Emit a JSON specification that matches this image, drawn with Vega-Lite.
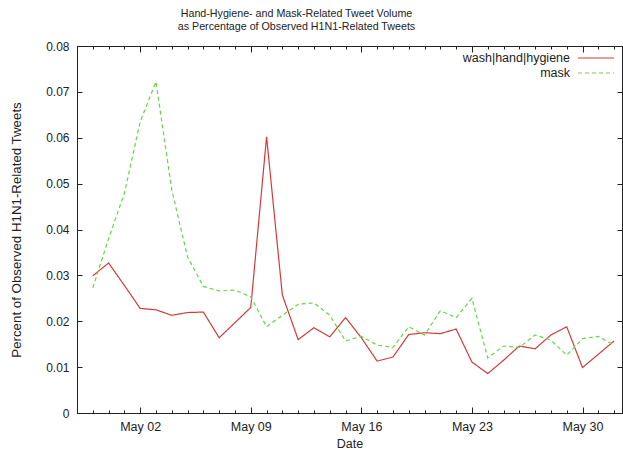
{
 "$schema": "https://vega.github.io/schema/vega-lite/v6.json",
 "width": 545, "height": 367,
 "autosize": "none",
 "padding": {"left": 77, "top": 46, "right": 1, "bottom": 37},
 "config": {
   "view": {"stroke": "#222", "strokeWidth": 1}
 },
 "title": {"text": ["Hand-Hygiene- and Mask-Related Tweet Volume", "as Percentage of Observed H1N1-Related Tweets"], "fontSize": 10.7, "fontWeight": "normal", "font": "Liberation Sans", "color": "#222", "anchor": "middle", "dx": -53, "offset": 7, "lineHeight": 13},
 "data": {"values": [
  {"date": "2009-04-29", "series": "wash|hand|hygiene", "value": 0.0299},
  {"date": "2009-04-30", "series": "wash|hand|hygiene", "value": 0.0327},
  {"date": "2009-05-01", "series": "wash|hand|hygiene", "value": 0.0278},
  {"date": "2009-05-02", "series": "wash|hand|hygiene", "value": 0.0228},
  {"date": "2009-05-03", "series": "wash|hand|hygiene", "value": 0.0225},
  {"date": "2009-05-04", "series": "wash|hand|hygiene", "value": 0.0213},
  {"date": "2009-05-05", "series": "wash|hand|hygiene", "value": 0.0219},
  {"date": "2009-05-06", "series": "wash|hand|hygiene", "value": 0.0220},
  {"date": "2009-05-07", "series": "wash|hand|hygiene", "value": 0.0164},
  {"date": "2009-05-08", "series": "wash|hand|hygiene", "value": 0.0197},
  {"date": "2009-05-09", "series": "wash|hand|hygiene", "value": 0.0230},
  {"date": "2009-05-10", "series": "wash|hand|hygiene", "value": 0.0602},
  {"date": "2009-05-11", "series": "wash|hand|hygiene", "value": 0.0257},
  {"date": "2009-05-12", "series": "wash|hand|hygiene", "value": 0.0160},
  {"date": "2009-05-13", "series": "wash|hand|hygiene", "value": 0.0186},
  {"date": "2009-05-14", "series": "wash|hand|hygiene", "value": 0.0166},
  {"date": "2009-05-15", "series": "wash|hand|hygiene", "value": 0.0208},
  {"date": "2009-05-16", "series": "wash|hand|hygiene", "value": 0.0164},
  {"date": "2009-05-17", "series": "wash|hand|hygiene", "value": 0.0113},
  {"date": "2009-05-18", "series": "wash|hand|hygiene", "value": 0.0122},
  {"date": "2009-05-19", "series": "wash|hand|hygiene", "value": 0.0171},
  {"date": "2009-05-20", "series": "wash|hand|hygiene", "value": 0.0175},
  {"date": "2009-05-21", "series": "wash|hand|hygiene", "value": 0.0173},
  {"date": "2009-05-22", "series": "wash|hand|hygiene", "value": 0.0183},
  {"date": "2009-05-23", "series": "wash|hand|hygiene", "value": 0.0111},
  {"date": "2009-05-24", "series": "wash|hand|hygiene", "value": 0.0086},
  {"date": "2009-05-25", "series": "wash|hand|hygiene", "value": 0.0115},
  {"date": "2009-05-26", "series": "wash|hand|hygiene", "value": 0.0146},
  {"date": "2009-05-27", "series": "wash|hand|hygiene", "value": 0.0140},
  {"date": "2009-05-28", "series": "wash|hand|hygiene", "value": 0.0170},
  {"date": "2009-05-29", "series": "wash|hand|hygiene", "value": 0.0188},
  {"date": "2009-05-30", "series": "wash|hand|hygiene", "value": 0.0099},
  {"date": "2009-05-31", "series": "wash|hand|hygiene", "value": 0.0128},
  {"date": "2009-06-01", "series": "wash|hand|hygiene", "value": 0.0157},
  {"date": "2009-04-29", "series": "mask", "value": 0.0273},
  {"date": "2009-04-30", "series": "mask", "value": 0.0380},
  {"date": "2009-05-01", "series": "mask", "value": 0.0479},
  {"date": "2009-05-02", "series": "mask", "value": 0.0635},
  {"date": "2009-05-03", "series": "mask", "value": 0.0722},
  {"date": "2009-05-04", "series": "mask", "value": 0.0486},
  {"date": "2009-05-05", "series": "mask", "value": 0.0340},
  {"date": "2009-05-06", "series": "mask", "value": 0.0276},
  {"date": "2009-05-07", "series": "mask", "value": 0.0266},
  {"date": "2009-05-08", "series": "mask", "value": 0.0268},
  {"date": "2009-05-09", "series": "mask", "value": 0.0253},
  {"date": "2009-05-10", "series": "mask", "value": 0.0188},
  {"date": "2009-05-11", "series": "mask", "value": 0.0213},
  {"date": "2009-05-12", "series": "mask", "value": 0.0237},
  {"date": "2009-05-13", "series": "mask", "value": 0.0240},
  {"date": "2009-05-14", "series": "mask", "value": 0.0213},
  {"date": "2009-05-15", "series": "mask", "value": 0.0157},
  {"date": "2009-05-16", "series": "mask", "value": 0.0167},
  {"date": "2009-05-17", "series": "mask", "value": 0.0148},
  {"date": "2009-05-18", "series": "mask", "value": 0.0143},
  {"date": "2009-05-19", "series": "mask", "value": 0.0188},
  {"date": "2009-05-20", "series": "mask", "value": 0.0170},
  {"date": "2009-05-21", "series": "mask", "value": 0.0223},
  {"date": "2009-05-22", "series": "mask", "value": 0.0208},
  {"date": "2009-05-23", "series": "mask", "value": 0.0250},
  {"date": "2009-05-24", "series": "mask", "value": 0.0120},
  {"date": "2009-05-25", "series": "mask", "value": 0.0146},
  {"date": "2009-05-26", "series": "mask", "value": 0.0143},
  {"date": "2009-05-27", "series": "mask", "value": 0.0170},
  {"date": "2009-05-28", "series": "mask", "value": 0.0159},
  {"date": "2009-05-29", "series": "mask", "value": 0.0126},
  {"date": "2009-05-30", "series": "mask", "value": 0.0162},
  {"date": "2009-05-31", "series": "mask", "value": 0.0167},
  {"date": "2009-06-01", "series": "mask", "value": 0.0148}
 ]},
 "mark": {"type": "line", "strokeWidth": 1.2},
 "encoding": {
  "x": {"field": "date", "type": "temporal",
        "scale": {"type": "utc", "domain": [{"year": 2009, "month": 4, "date": 28, "utc": true}, {"year": 2009, "month": 6, "date": 1, "hours": 12, "utc": true}]},
        "axis": {"orient": "bottom", "domainColor": "#222", "domainWidth": 1, "ticks": false, "tickSize": 0,
                 "grid": true, "gridColor": "#222", "gridOpacity": 1, "gridWidth": 1,
                 "gridDash": {"condition": {"test": "utcday(datum.value) == 6", "value": [6, 355, 6, 1000]}, "value": [3, 361, 3, 1000]},
                 "tickCount": {"interval": "day", "step": 1},
                 "labelExpr": "utcday(datum.value) == 6 ? utcFormat(datum.value, '%b %d') : ''",
                 "labelFont": "Liberation Sans", "labelFontSize": 12.5, "labelColor": "#222", "labelOverlap": false, "labelFlush": false, "labelPadding": 7,
                 "title": "Date", "titleFont": "Liberation Sans", "titleFontSize": 12.5, "titleFontWeight": "normal", "titleColor": "#222", "titlePadding": 5}},
  "y": {"field": "value", "type": "quantitative", "scale": {"domain": [0, 0.08]},
        "axis": {"orient": "left", "domainColor": "#222", "domainWidth": 1, "ticks": false, "tickSize": 0,
                 "grid": true, "gridColor": "#222", "gridOpacity": 1, "gridWidth": 1, "gridDash": [5, 535, 5, 1000],
                 "tickCount": 8, "format": ".2~f",
                 "labelFont": "Liberation Sans", "labelFontSize": 12, "labelColor": "#222", "labelPadding": 8,
                 "title": "Percent of Observed H1N1-Related Tweets", "titleFont": "Liberation Sans", "titleFontSize": 13.3, "titleFontWeight": "normal", "titleColor": "#222", "titlePadding": 22}},
  "color": {"field": "series", "type": "nominal", "scale": {"domain": ["wash|hand|hygiene", "mask"], "range": ["#d43a3a", "#66d64a"]},
            "legend": {"title": null, "orient": "top-right", "offset": 5, "symbolType": "M-3,0H3", "symbolSize": 144, "symbolStrokeWidth": 1.2, "labelAlign": "right", "labelOffset": -33, "labelFontSize": 12.5, "labelFont": "Liberation Sans", "labelColor": "#222", "rowPadding": 1, "padding": 0, "labelLimit": 300}},
  "strokeDash": {"field": "series", "type": "nominal", "scale": {"domain": ["wash|hand|hygiene", "mask"], "range": [[1, 0], [4, 3]]},
            "legend": {"title": null, "orient": "top-right", "offset": 5, "symbolType": "M-3,0H3", "symbolSize": 144, "symbolStrokeWidth": 1.2, "labelAlign": "right", "labelOffset": -33, "labelFontSize": 12.5, "labelFont": "Liberation Sans", "labelColor": "#222", "rowPadding": 1, "padding": 0, "labelLimit": 300}}
 }
}
